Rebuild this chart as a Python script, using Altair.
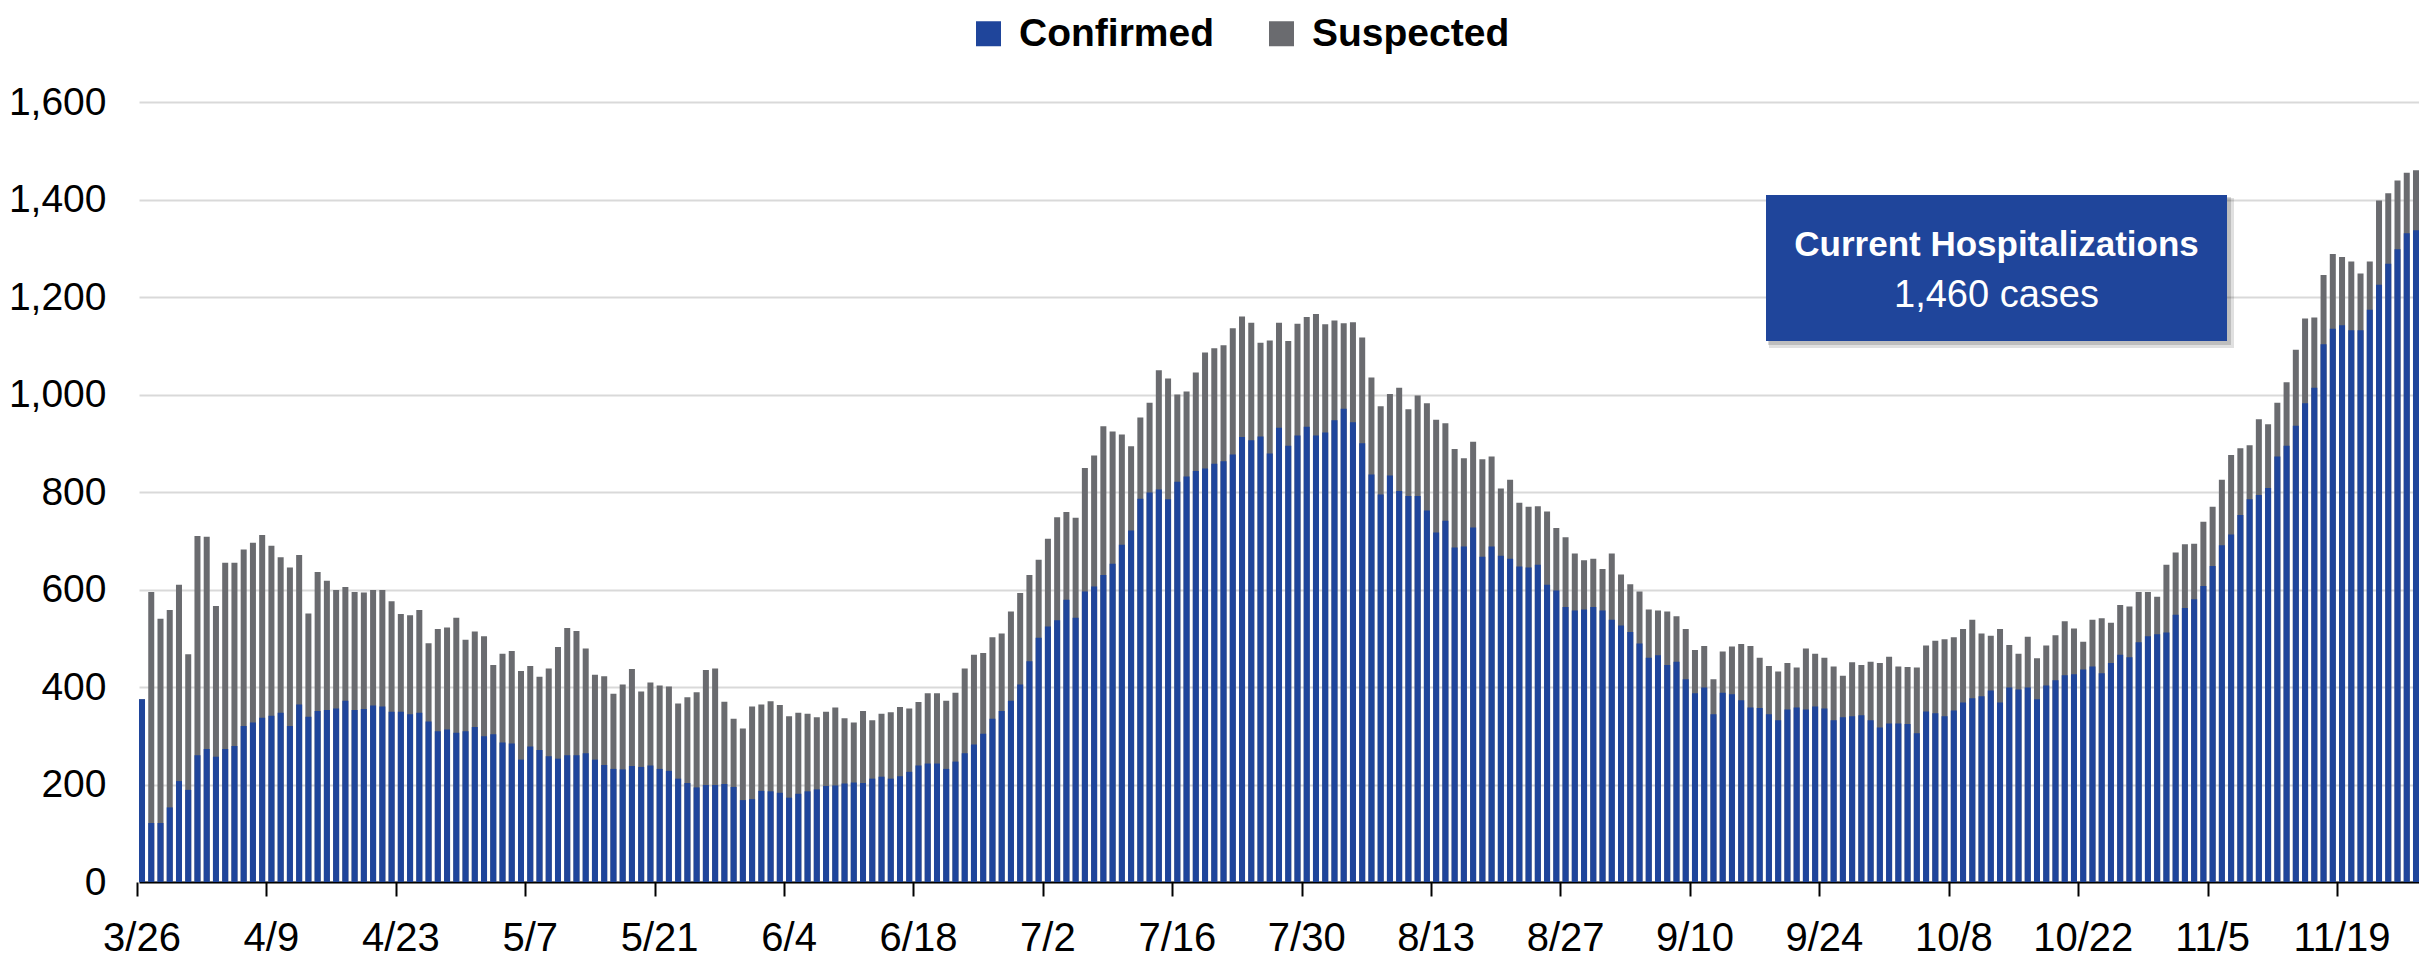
import altair as alt
import pandas as pd

# ---------------- data ----------------
start_date = "2020-03-26"

confirmed = [
    375, 121, 121, 153, 207, 189, 260, 273, 257, 273, 279, 320, 327, 337, 341, 347, 320, 364, 339, 351,
    353, 356, 372, 353, 355, 362, 360, 349, 349, 344, 347, 329, 309, 313, 306, 309, 318, 299, 303, 286,
    284, 251, 278, 271, 258, 253, 260, 260, 264, 251, 240, 232, 231, 238, 236, 239, 232, 228, 212, 203,
    194, 199, 199, 201, 195, 168, 170, 187, 186, 183, 173, 181, 186, 190, 197, 198, 202, 204, 203, 212,
    216, 212, 217, 226, 239, 243, 243, 232, 247, 264, 282, 304, 335, 351, 372, 405, 453, 501, 524, 537,
    579, 542, 596, 606, 630, 653, 692, 721, 786, 799, 805, 785, 821, 832, 843, 848, 858, 863, 877, 913,
    906, 914, 879, 932, 895, 916, 934, 916, 922, 947, 971, 943, 900, 836, 795, 834, 802, 792, 792, 762,
    717, 741, 686, 688, 727, 667, 688, 669, 663, 647, 645, 651, 610, 598, 564, 557, 559, 564, 557, 538,
    526, 513, 489, 460, 465, 445, 452, 416, 387, 399, 344, 388, 385, 373, 358, 357, 344, 332, 354, 358,
    354, 360, 356, 332, 338, 340, 342, 332, 317, 325, 325, 324, 305, 350, 346, 340, 352, 368, 377, 381,
    393, 368, 399, 395, 399, 375, 403, 414, 424, 426, 436, 442, 428, 449, 466, 461, 492, 504, 508, 512,
    548, 562, 580, 607, 648, 691, 713, 753, 785, 794, 808, 873, 895, 936, 982, 1014, 1103, 1135, 1142, 1132,
    1132, 1174, 1225, 1268, 1298, 1331, 1337,
]

total = [
    375, 595, 540, 558, 610, 467, 710, 708, 566, 655, 655, 682, 696, 712, 690, 666, 645, 671, 551, 636,
    618, 599, 605, 595, 594, 599, 599, 576, 550, 547, 558, 490, 519, 522, 542, 497, 514, 504, 445, 468,
    474, 433, 443, 421, 438, 482, 521, 515, 479, 425, 422, 386, 405, 437, 391, 409, 403, 401, 366, 379,
    389, 435, 438, 370, 335, 315, 360, 364, 371, 363, 340, 347, 345, 338, 349, 358, 336, 327, 351, 332,
    345, 348, 359, 356, 369, 387, 387, 372, 388, 438, 466, 470, 502, 510, 555, 593, 630, 661, 704, 748,
    759, 747, 849, 875, 935, 924, 918, 894, 953, 983, 1050, 1033, 1000, 1006, 1045, 1086, 1095, 1101, 1136, 1160,
    1147, 1106, 1111, 1147, 1110, 1145, 1159, 1165, 1144, 1152, 1146, 1148, 1117, 1035, 976, 1001, 1014, 970, 998, 982,
    948, 941, 888, 869, 903, 867, 873, 807, 825, 778, 770, 771, 760, 726, 707, 674, 660, 663, 642, 674,
    631, 611, 596, 559, 557, 555, 545, 519, 476, 484, 416, 473, 483, 488, 484, 460, 443, 432, 449, 440,
    479, 468, 460, 442, 423, 451, 445, 452, 449, 462, 442, 441, 440, 485, 495, 498, 502, 519, 538, 510,
    505, 519, 486, 468, 503, 459, 485, 506, 535, 520, 493, 538, 541, 532, 568, 565, 595, 595, 585, 651,
    676, 693, 694, 739, 770, 825, 876, 890, 896, 949, 939, 983, 1025, 1092, 1156, 1158, 1245, 1288, 1282, 1273,
    1248, 1273, 1398, 1413, 1439, 1455, 1460,
]

tick_labels = ["3/26", "4/9", "4/23", "5/7", "5/21", "6/4", "6/18", "7/2", "7/16",
               "7/30", "8/13", "8/27", "9/10", "9/24", "10/8", "10/22", "11/5", "11/19"]
y_ticks = [0, 200, 400, 600, 800, 1000, 1200, 1400, 1600]
series_names = ["Confirmed", "Suspected"]
series_colors = ["#1F459B", "#6A6B6F"]
box_title = "Current Hospitalizations"
box_value = "1,460 cases"

# ---------------- build ----------------
dates = pd.date_range(start_date, periods=len(confirmed))
day_labels = [f"{d.month}/{d.day}" for d in dates]
df = pd.DataFrame({"day": day_labels, "confirmed": confirmed, "total": total})

FONT = "Liberation Sans, Arial, sans-serif"
BOX_BLUE = "#1F459B"

x_enc = alt.X(
    "day:O", sort=day_labels, title=None,
    scale=alt.Scale(paddingInner=0.35, paddingOuter=0),
    axis=alt.Axis(values=tick_labels, bandPosition=-0.27, labelAngle=0,
                  labelFont=FONT, labelFontSize=40, labelColor="black", labelPadding=22,
                  tickSize=14, tickColor="black", tickWidth=2,
                  domainColor="black", domainWidth=2, grid=False),
)

y_axis = alt.Axis(values=y_ticks, format=",.0f", title=None,
                  labelFont=FONT, labelFontSize=39, labelColor="black", labelPadding=33,
                  ticks=False, domain=False, grid=True, gridColor="#D9D9D9", gridWidth=2)
y_scale = alt.Scale(domain=[0, 1600], nice=False)

color_scale = alt.Scale(domain=series_names, range=series_colors)
legend = alt.Legend(title=None, orient="none", legendX=830, legendY=-88,
                    direction="horizontal", symbolType="square", symbolSize=625,
                    symbolStrokeWidth=0, labelFont=FONT, labelFontSize=39,
                    labelFontWeight="bold", labelColor="black", labelLimit=600,
                    labelOffset=11, columnPadding=48, padding=0)

base = alt.Chart(df)

suspected_bars = base.transform_calculate(series="'Suspected'").mark_bar().encode(
    x=x_enc,
    y=alt.Y("total:Q", scale=y_scale, axis=y_axis, stack=None),
    color=alt.Color("series:N", scale=color_scale, legend=legend),
)

confirmed_bars = base.transform_calculate(series="'Confirmed'").mark_bar().encode(
    x=x_enc,
    y=alt.Y("confirmed:Q", scale=y_scale, axis=y_axis, stack=None),
    color=alt.Color("series:N", scale=color_scale, legend=legend),
)

one = alt.Chart(pd.DataFrame({"k": [0]}))
BX0, BX1, BY0, BY1 = 1627, 2088, 93, 239

shadow1 = one.mark_rect(color="#000000", opacity=0.12).encode(
    x=alt.value(BX0 + 3), x2=alt.value(BX1 + 7), y=alt.value(BY0 + 3), y2=alt.value(BY1 + 7))
shadow2 = one.mark_rect(color="#000000", opacity=0.15).encode(
    x=alt.value(BX0 + 2), x2=alt.value(BX1 + 4), y=alt.value(BY0 + 2), y2=alt.value(BY1 + 4))
box = one.mark_rect(color=BOX_BLUE).encode(
    x=alt.value(BX0), x2=alt.value(BX1), y=alt.value(BY0), y2=alt.value(BY1))
title_txt = one.mark_text(text=box_title, font=FONT, fontSize=35, fontWeight="bold",
                          color="white", align="center", baseline="alphabetic").encode(
    x=alt.value((BX0 + BX1) / 2), y=alt.value(154))
value_txt = one.mark_text(text=box_value, font=FONT, fontSize=38,
                          color="white", align="center", baseline="alphabetic").encode(
    x=alt.value((BX0 + BX1) / 2), y=alt.value(205))

chart = alt.layer(
    suspected_bars, confirmed_bars, shadow1, shadow2, box, title_txt, value_txt
).properties(
    width=2280, height=780,
    autosize=alt.AutoSizeParams(type="none"),
    padding={"left": 131, "top": 94, "right": 0, "bottom": 80},
).configure_view(stroke=None)

chart.save("out.html", embed_options={"renderer": "svg", "actions": False})
